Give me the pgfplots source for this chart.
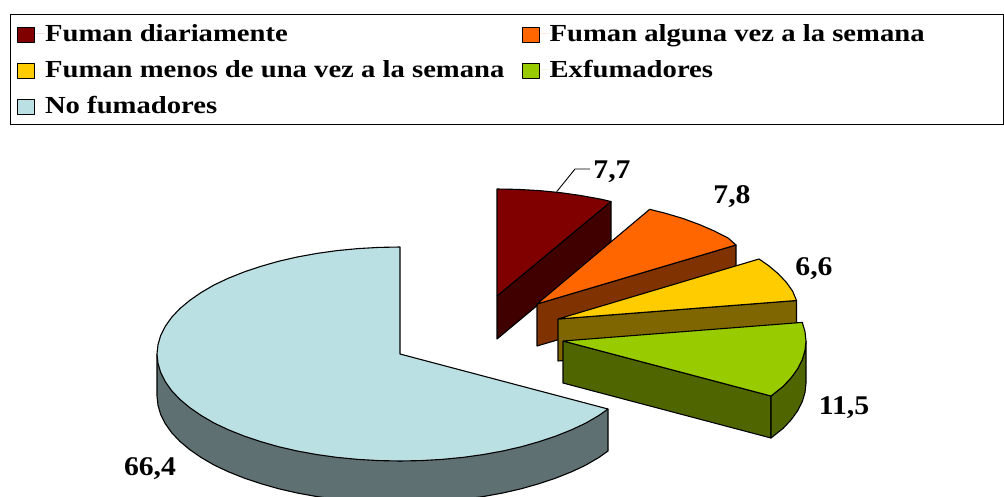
\documentclass[border=0pt]{standalone}
\usepackage{fontspec}
\setmainfont{Liberation Serif}
\usepackage{pgfplots}
\pgfplotsset{compat=1.18}
\definecolor{cRed}{RGB}{128,0,0}
\definecolor{cRedW}{RGB}{64,0,0}
\definecolor{cOra}{RGB}{255,102,0}
\definecolor{cOraW}{RGB}{128,51,0}
\definecolor{cYel}{RGB}{255,204,0}
\definecolor{cYelW}{RGB}{128,102,0}
\definecolor{cGre}{RGB}{153,204,0}
\definecolor{cGreW}{RGB}{79,102,0}
\definecolor{cBlu}{RGB}{187,224,227}
\definecolor{cBluW}{RGB}{94,112,114}
\newcommand{\lab}[1]{\scalebox{1.1}[1]{\bfseries\fontsize{27}{30}\selectfont #1}}
\newcommand{\leg}[1]{\rule{0pt}{27.5pt}\raisebox{5pt}{\scalebox{1.17}[1]{#1}}}
\begin{document}
\begin{tikzpicture}[x=1pt,y=1pt]
\useasboundingbox (0,0) rectangle (1004,497);
\begin{axis}[
  at={(0,0)}, anchor=south west,
  scale only axis, width=1004pt, height=497pt,
  xmin=0, xmax=1004, ymin=0, ymax=497, y dir=reverse,
  axis lines=none, clip=true, 
  every axis plot/.append style={draw=black, line width=1.1pt, line join=round},
  legend columns=2,
  legend cell align=left,
  legend style={at={(axis cs:10,14)}, anchor=north west, draw=black, line width=1pt,
    font=\bfseries\fontsize{24.5}{25}\selectfont,
    nodes={inner sep=0pt, outer sep=0pt},
    row sep=7pt, column sep=0pt, inner xsep=6.5pt, inner ysep=4.5pt},
  legend image code/.code={\draw[#1, line width=1.1pt] (0pt,-9pt) rectangle (17pt,6pt); \path[draw=none] (0pt,0pt) -- (27.5pt,0pt);},
]
% red
\addplot[fill=cRedW, forget plot] coordinates {(497,296)(611,201.5)(611,244)(497,339)(497,296)};
\addplot[fill=cRed] coordinates {(497,296)(497,189)(518,189.4)(539.2,190.6)(560,192.6)(580,195.4)(600,199)(611,201.5)(497,296)};
\addlegendentry{\leg{Fuman diariamente}}
% orange
\addplot[fill=cOraW, forget plot] coordinates {(537,304)(736,245)(736,287)(537,346)(537,304)};
\addplot[fill=cOra] coordinates {(537,304)(649.7,209.3)(665.5,213.3)(683,218.5)(699.3,224.5)(714.3,231)(728.2,238.1)(736,245)(537,304)};
\addlegendentry{\makebox[447pt][l]{\leg{Fuman alguna vez a la semana}}}
% yellow
\addplot[fill=cYelW, forget plot] coordinates {(558,319)(796.5,300.5)(796.5,343)(558,361)(558,319)};
\addplot[fill=cYel] coordinates {(558,319)(759,259)(768.4,265.5)(778.2,273.7)(786.4,282.4)(792.7,291.3)(796.5,300.5)(558,319)};
\addlegendentry{\makebox[476.5pt][l]{\leg{Fuman menos de una vez a la semana}}}
% green
\addplot[fill=cGreW, forget plot] coordinates {(563,341)(771,396)(771,438)(563,383)(563,341)};
\addplot[fill=cGreW, forget plot] coordinates {(806,341)(805,350.3)(802.3,359.6)(797.7,368.7)(791.3,377.6)(783.2,386.3)(771,396)(771,438)(783.2,428.3)(791.3,419.6)(797.7,410.7)(802.3,401.6)(805,392.3)(806,383)(806,341)};
\addplot[fill=cGre] coordinates {(563,341)(802.3,322.4)(805,331.7)(806,341)(805,350.3)(802.3,359.6)(797.7,368.7)(791.3,377.6)(783.2,386.3)(771,396)(563,341)};
\addlegendentry{\leg{Exfumadores}}
% big slice
\addplot[fill=cBluW, forget plot] coordinates {(608,409)(400,461)(157,354)(157,396)(158,405.3)(160.7,414.6)(165.3,423.7)(171.6,432.6)(179.8,441.3)(189.6,449.5)(201,457.4)(214,465)(228.2,471.7)(244,478)(260.6,483.6)(278.5,488.7)(297.2,493)(317,496.6)(337.1,499.4)(358,501.4)(378.8,502.6)(400,503)(421.2,502.6)(442,501.4)(462.9,499.4)(483,496.6)(502.8,493)(521.5,488.7)(539.4,483.6)(556,478)(571.8,471.7)(586,465)(599,457.4)(608,451)(608,409)};
\addplot[fill=cBlu] coordinates {(400,354)(608,409)(599,415.4)(586,423)(571.8,429.7)(556,436)(539.4,441.6)(521.5,446.7)(502.8,451)(483,454.6)(462.9,457.4)(442,459.4)(421.2,460.6)(400,461)(378.8,460.6)(358,459.4)(337.1,457.4)(317,454.6)(297.2,451)(278.5,446.7)(260.6,441.6)(244,436)(228.2,429.7)(214,423)(201,415.4)(189.6,407.5)(179.8,399.3)(171.6,390.6)(165.3,381.7)(160.7,372.6)(158,363.3)(157,354)(158,344.7)(160.7,335.4)(165.3,326.3)(171.6,317.4)(179.8,308.7)(189.6,300.5)(201,292.6)(214,285)(228.2,278.3)(244,272)(260.6,266.4)(278.5,261.3)(297.2,257)(317,253.4)(337.1,250.6)(358,248.6)(378.8,247.4)(400,247)(400,354)};
\addlegendentry{\leg{No fumadores}}
% leader line
\addplot[forget plot, line width=0.9pt] coordinates {(556.7,191.7)(575,169)(590,169)};
% labels
\node at (axis cs:612,172) {\lab{7,7}};
\node at (axis cs:732,197) {\lab{7,8}};
\node at (axis cs:814,269) {\lab{6,6}};
\node at (axis cs:844,408) {\lab{11,5}};
\node at (axis cs:150,469) {\lab{66,4}};
\end{axis}
\end{tikzpicture}
\end{document}
